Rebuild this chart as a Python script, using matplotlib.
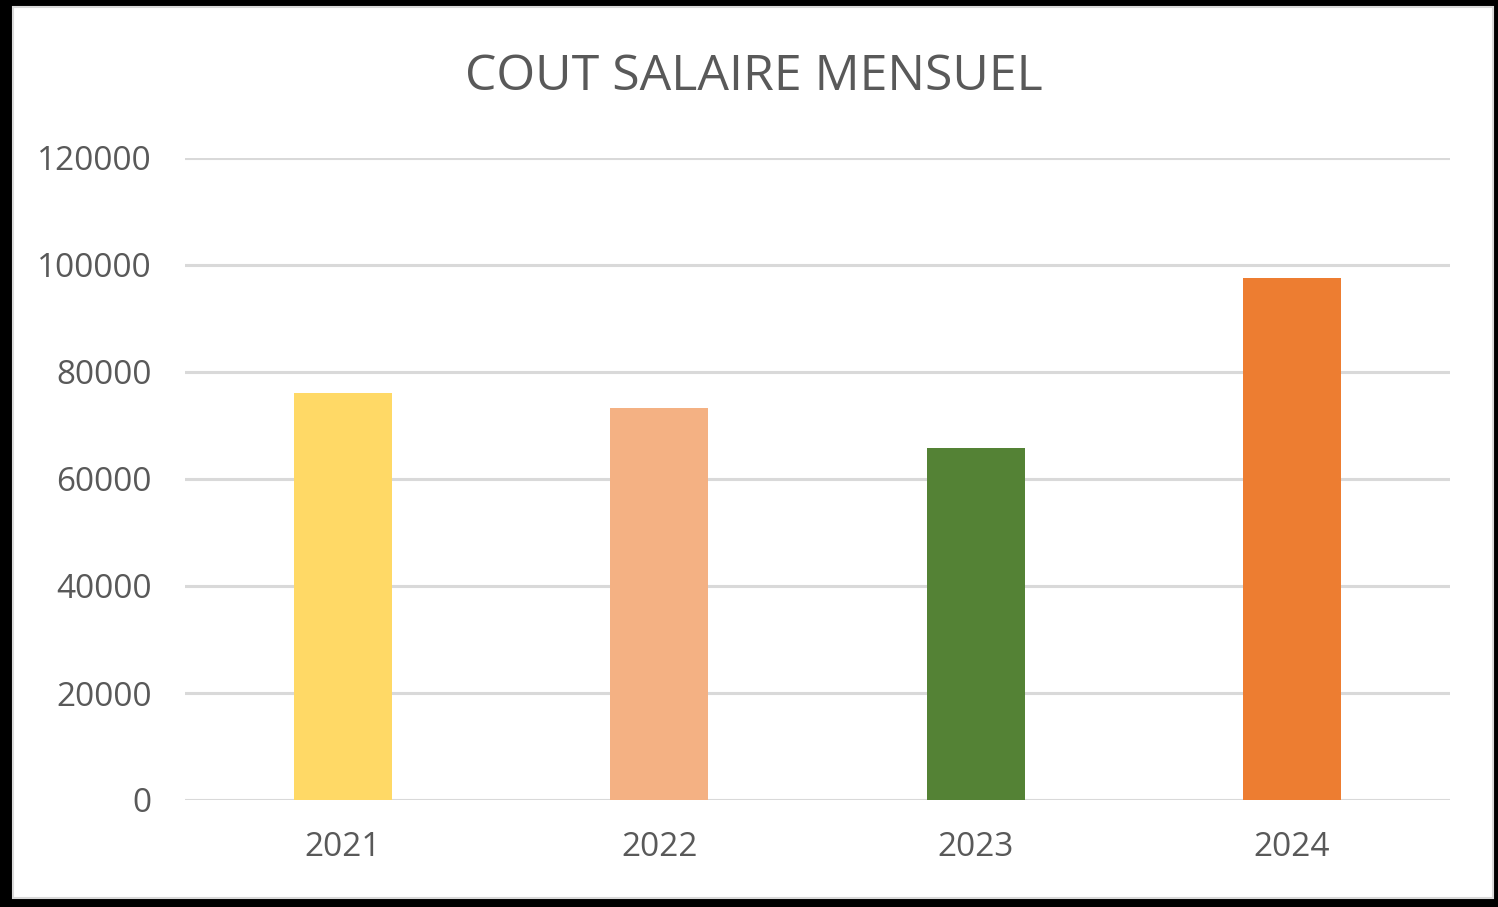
import matplotlib.pyplot as plt
from matplotlib.patches import Rectangle

# data
years = ['2021', '2022', '2023', '2024']
costs = [76100, 73300, 65800, 97600]
bar_colors = ['#FFD966', '#F4B183', '#548235', '#ED7D31']
yticks = [0, 20000, 40000, 60000, 80000, 100000, 120000]

W, H = 1498, 907
text_color = '#595959'
plt.rcParams['font.family'] = ['Open Sans', 'DejaVu Sans']

fig = plt.figure(figsize=(W / 100, H / 100), dpi=100, facecolor='black')

# white card inside the black frame
fig.patches.append(Rectangle((13 / W, 9 / H), (1493 - 13) / W, (900 - 9) / H,
                             transform=fig.transFigure, facecolor='white',
                             edgecolor='#d9d9d9', linewidth=1.5, zorder=-5))

ax = fig.add_axes([185 / W, (H - 800) / H, (1450 - 185) / W, (800 - 158) / H])
ax.set_zorder(2)
ax.set_facecolor('none')

x = range(len(years))
ax.bar(x, costs, width=0.31, color=bar_colors, zorder=3)

ax.set_xlim(-0.5, 3.5)
ax.set_ylim(0, 120000)
ax.set_yticks(yticks)
ax.set_yticklabels([str(v) for v in yticks])
ax.set_xticks(list(x))
ax.set_xticklabels(years)

ax.grid(axis='y', color='#D9D9D9', linewidth=2.2, zorder=0)
ax.set_axisbelow(True)
for s in ax.spines.values():
    s.set_visible(False)
ax.tick_params(length=0, labelsize=24, colors=text_color)
ax.tick_params(axis='y', pad=24)
ax.tick_params(axis='x', pad=22)

fig.text(754 / W, 1 - 77 / H, 'COUT SALAIRE MENSUEL', ha='center', va='center',
         fontsize=36, color=text_color, zorder=5)

fig.savefig('out.png', dpi=100, facecolor=fig.get_facecolor())
